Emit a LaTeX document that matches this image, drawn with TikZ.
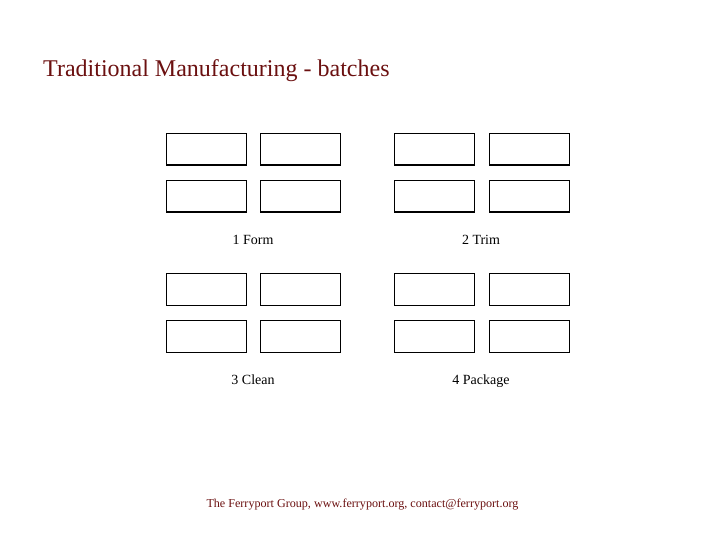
\documentclass[tikz,border=0pt]{standalone}
\usepackage{fontspec}
\setmainfont{Liberation Serif}
\definecolor{titlered}{HTML}{6B1010}
\begin{document}
\begin{tikzpicture}[x=1pt,y=-1pt,
  cell/.style={draw=black,line width=1.1pt,minimum width=80pt,minimum height=31.5pt,inner sep=0pt,anchor=north west},
  steplabel/.style={font=\fontsize{14}{16}\selectfont,anchor=base,inner sep=0pt},
]
\useasboundingbox (0,0) rectangle (720,540);
\node[anchor=base west,text=titlered,inner sep=0pt,font=\fontsize{24}{28}\selectfont] (title) at (43,77) {Traditional Manufacturing - batches};
% group 1
\node[cell] (a1) at (166,133) {};
\node[cell] (a2) at (260,133) {};
\node[cell] (a3) at (166,180) {};
\node[cell] (a4) at (260,180) {};
\node[steplabel] (l1) at (253,244.5) {1 Form};
% group 2
\node[cell] (b1) at (394,133) {};
\node[cell] (b2) at (489,133) {};
\node[cell] (b3) at (394,180) {};
\node[cell] (b4) at (489,180) {};
\node[steplabel] (l2) at (481,244.5) {2 Trim};
% group 3
\node[cell] (c1) at (166,273) {};
\node[cell] (c2) at (260,273) {};
\node[cell] (c3) at (166,320) {};
\node[cell] (c4) at (260,320) {};
\node[steplabel] (l3) at (253,384.5) {3 Clean};
% group 4
\node[cell] (d1) at (394,273) {};
\node[cell] (d2) at (489,273) {};
\node[cell] (d3) at (394,320) {};
\node[cell] (d4) at (489,320) {};
\node[steplabel] (l4) at (481,384.5) {4 Package};
\node[anchor=base,text=titlered,inner sep=0pt,font=\fontsize{12.1}{14}\selectfont] (foot) at (362.5,507) {The Ferryport Group, www.ferryport.org, contact@ferryport.org};
\end{tikzpicture}
\end{document}
